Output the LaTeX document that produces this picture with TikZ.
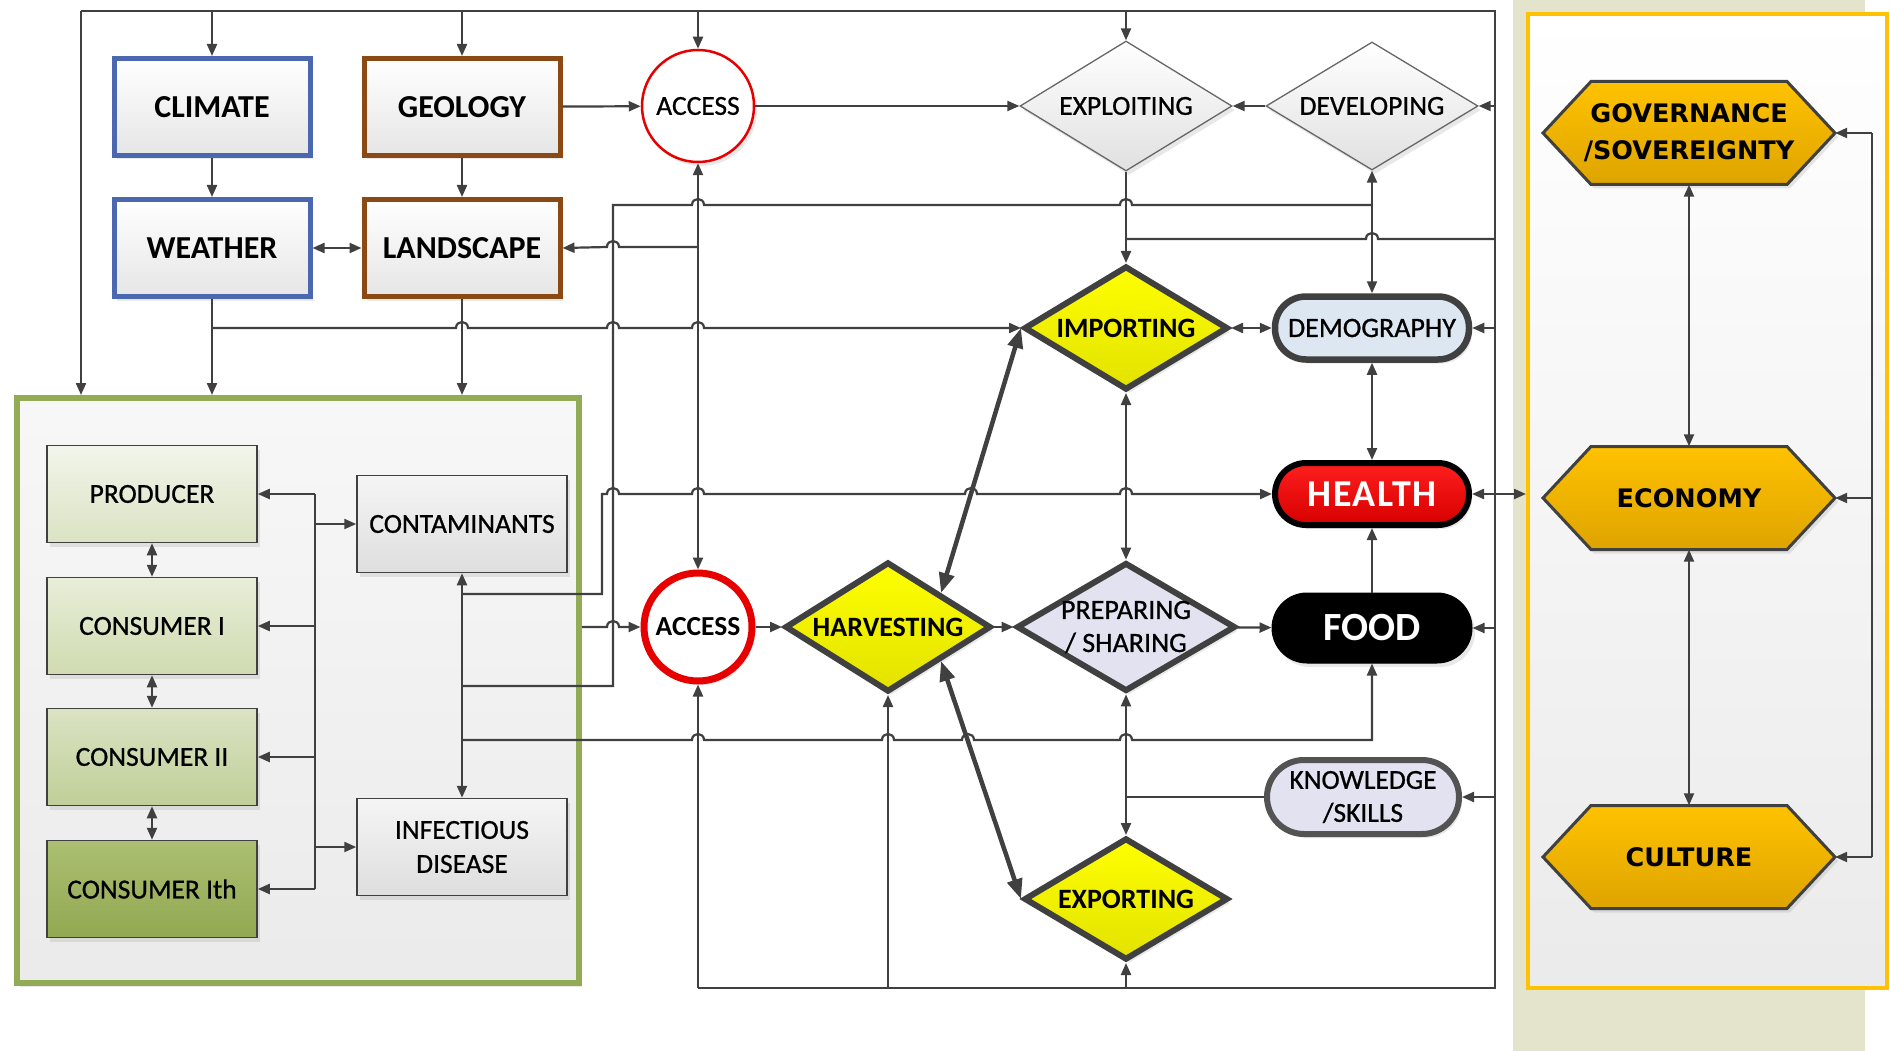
\documentclass[tikz,border=0pt]{standalone}
\usepackage{fontspec}
\setmainfont{Carlito}
\newfontfamily\medfont{Carlito}[FakeBold=0.8]
\newfontfamily\hexfont{DejaVu Sans}
\usetikzlibrary{shapes.geometric,arrows.meta,shadows}
\definecolor{lc}{RGB}{64,64,64}
\definecolor{bluebd}{RGB}{74,103,176}
\definecolor{brownbd}{RGB}{139,74,20}
\definecolor{greenbd}{RGB}{146,172,86}
\definecolor{khaki}{RGB}{228,228,204}
\definecolor{gold}{RGB}{255,194,0}
\definecolor{golddk}{RGB}{222,164,0}
\definecolor{redbd}{RGB}{230,0,0}
\definecolor{lav}{RGB}{226,226,240}
\definecolor{demo}{RGB}{221,231,242}
\definecolor{yel}{RGB}{255,255,0}
\definecolor{yeldk}{RGB}{226,226,0}
\definecolor{pA}{RGB}{242,245,235}
\definecolor{pB}{RGB}{218,227,195}
\definecolor{cA}{RGB}{232,238,217}
\definecolor{cB}{RGB}{207,219,176}
\definecolor{dA}{RGB}{218,227,195}
\definecolor{dB}{RGB}{192,207,152}
\definecolor{eA}{RGB}{172,191,114}
\definecolor{eB}{RGB}{146,168,82}
\definecolor{hA}{RGB}{255,30,30}
\definecolor{hB}{RGB}{214,0,0}
\newcommand{\myhex}[2]{\draw[draw=lc,line width=3pt,top color=gold,bottom color=golddk,shad] (#1-146,#2) -- (#1-98,#2-51.5) -- (#1+98,#2-51.5) -- (#1+146,#2) -- (#1+98,#2+51.5) -- (#1-98,#2+51.5) -- cycle;}
\begin{document}
\begin{tikzpicture}[x=1pt,y=-1pt,
 cline/.style={draw=lc,line width=2.2pt},
 carr/.style={cline,-{Triangle[length=12pt,width=10pt]}},
 cbarr/.style={cline,{Triangle[length=12pt,width=10pt]}-{Triangle[length=12pt,width=10pt]}},
 cthick/.style={draw=lc,line width=4.5pt,{Triangle[length=20pt,width=15pt]}-{Triangle[length=20pt,width=15pt]}},
 hopr/.style 2 args={insert path={-- (#1-6,#2) .. controls (#1-6,#2-8) and (#1+6,#2-8) .. (#1+6,#2)}},
 hopl/.style 2 args={insert path={-- (#1+6,#2) .. controls (#1+6,#2-8) and (#1-6,#2-8) .. (#1-6,#2)}},
 shad/.style={drop shadow={shadow xshift=3pt,shadow yshift=-4pt,opacity=0.18}},
 topbox/.style={rectangle,minimum width=196,minimum height=97,inner sep=0,line width=5pt,top color=white,bottom color=black!10,shad,font=\fontsize{32}{36}\selectfont\bfseries},
 gbox/.style={rectangle,minimum width=210,minimum height=97,inner sep=0,draw=lc,line width=1.5pt,shad,font=\medfont\fontsize{27.5}{34}\selectfont,align=center},
 gdiam/.style={diamond,aspect=1.7,inner sep=0,shad,align=center},
 pill/.style={rectangle,inner sep=0,shad,align=center},
 hexn/.style={rectangle,minimum width=292,minimum height=103,inner sep=0,align=center,font=\hexfont\bfseries\fontsize{25.5}{37}\selectfont},
]
\useasboundingbox (0,0) rectangle (1890,1051);
\fill[white] (0,0) rectangle (1890,1051);
\fill[khaki] (1513,0) rectangle (1865,1051);
\node[rectangle,minimum width=359,minimum height=974,inner sep=0,draw=gold,line width=4pt,top color=white,bottom color=black!8] (ybox) at (1707.5,501) {};
\node[rectangle,minimum width=562,minimum height=585,inner sep=0,draw=greenbd,line width=6pt,top color=white!97!black,bottom color=black!8,shad] (green) at (298,690.5) {};

% top boxes
\node[topbox,draw=bluebd] (climate) at (212,107) {CLIMATE};
\node[topbox,draw=brownbd] (geology) at (462,107) {GEOLOGY};
\node[topbox,draw=bluebd] (weather) at (212,248) {WEATHER};
\node[topbox,draw=brownbd] (land) at (462,248) {LANDSCAPE};
\node[circle,minimum size=112,inner sep=0,draw=redbd,line width=2.5pt,fill=white,shad,font=\medfont\fontsize{27.5}{30}\selectfont] (accT) at (698,106) {ACCESS};
\node[gdiam,minimum width=212,minimum height=130,draw=lc!80,line width=1.3pt,top color=white,bottom color=black!12,font=\medfont\fontsize{27.5}{30}\selectfont] (exploit) at (1126,106) {EXPLOITING};
\node[gdiam,minimum width=212,minimum height=128,draw=lc!80,line width=1.3pt,top color=white,bottom color=black!12,font=\medfont\fontsize{27.5}{30}\selectfont] (develop) at (1372,106) {DEVELOPING};

% middle column
\node[gdiam,minimum width=204,minimum height=124,draw=lc,line width=6pt,top color=yel,bottom color=yeldk,font=\fontsize{28}{30}\selectfont\bfseries] (import) at (1126,328) {IMPORTING};
\node[pill,minimum width=194,minimum height=63,rounded corners=31pt,draw=lc,line width=6.5pt,fill=demo,font=\medfont\fontsize{28}{30}\selectfont] (demog) at (1372,328) {DEMOGRAPHY};
\node[pill,minimum width=194,minimum height=62,rounded corners=31pt,draw=black,line width=6pt,top color=hA,bottom color=hB,text=white,font=\addfontfeatures{LetterSpace=4}\fontsize{38}{40}\selectfont\bfseries] (health) at (1372,494) {HEALTH};
\node[pill,minimum width=200,minimum height=70,rounded corners=35pt,draw=black,line width=1pt,fill=black,text=white,font=\fontsize{40}{42}\selectfont\bfseries] (food) at (1372,628) {FOOD};
\node[pill,minimum width=192,minimum height=74,rounded corners=37pt,draw=lc!90,line width=6pt,fill=lav,font=\medfont\fontsize{27.5}{33}\selectfont] (know) at (1363,797) {KNOWLEDGE\\/SKILLS};
\node[circle,minimum size=108,inner sep=0,draw=redbd,line width=7pt,fill=white,shad,font=\fontsize{27.5}{30}\selectfont\bfseries] (accB) at (698,627) {ACCESS};
\node[gdiam,minimum width=206,minimum height=130,draw=lc,line width=6pt,top color=yel,bottom color=yeldk,font=\fontsize{28}{30}\selectfont\bfseries] (harv) at (888,627) {HARVESTING};
\node[gdiam,minimum width=216,minimum height=126,draw=lc,line width=6pt,fill=lav,font=\medfont\fontsize{28}{33}\selectfont] (prep) at (1126,627) {PREPARING\\/ SHARING};
\node[gdiam,minimum width=204,minimum height=122,draw=lc,line width=6pt,top color=yel,bottom color=yeldk,font=\fontsize{28}{30}\selectfont\bfseries] (export) at (1126,899) {EXPORTING};

% green box
\node[gbox,top color=pA,bottom color=pB] (prod) at (152,494) {PRODUCER};
\node[gbox,top color=cA,bottom color=cB] (c1) at (152,626) {CONSUMER I};
\node[gbox,top color=dA,bottom color=dB] (c2) at (152,757) {CONSUMER II};
\node[gbox,top color=eA,bottom color=eB] (c3) at (152,889) {CONSUMER Ith};
\node[gbox,top color=white!96!black,bottom color=black!13] (contam) at (462,524) {CONTAMINANTS};
\node[gbox,top color=white!96!black,bottom color=black!13] (infect) at (462,847) {INFECTIOUS\\DISEASE};

% right panel
\myhex{1689}{133}
\myhex{1689}{498}
\myhex{1689}{857}
\node[hexn] (gov) at (1689,133) {GOVERNANCE\\/SOVEREIGNTY};
\node[hexn] (eco) at (1689,498) {ECONOMY};
\node[hexn] (cul) at (1689,857) {CULTURE};

% frame
\coordinate (tl) at (81,11);
\coordinate (tr) at (1495,11);
\coordinate (br) at (1495,988);
\coordinate (bl) at (698,988);
\draw[cline] (tl) -- (tr) -- (br) -- (bl);
\draw[carr] (tl) -- (tl |- green.north);
\draw[carr] (climate.north |- tl) -- (climate.north);
\draw[carr] (geology.north |- tl) -- (geology.north);
\draw[carr] (accT.north |- tl) -- (accT.north);
\draw[carr] (exploit.north |- tl) -- (exploit.north);
\draw[carr] (develop.east -| tr) -- (develop.east);
\draw[carr] (demog.east -| tr) -- (demog.east);
\draw[carr] (food.east -| tr) -- (food.east);
\draw[carr] (know.east -| tr) -- (know.east);
\draw[cbarr] (health.east) -- (health.east -| ybox.west);
\draw[cline] (1495,239) [hopl={1372}{239}] -- (1126,239);
\draw[carr] (bl) -- (accB.south);
\draw[carr] (harv.south |- bl) -- (harv.south);
\draw[carr] (export.south |- bl) -- (export.south);

% top-left cluster
\draw[carr] (climate) -- (weather);
\draw[carr] (geology) -- (land);
\draw[cbarr] (weather) -- (land);
\draw[carr] (geology) -- (accT);
\draw[carr] (accT) -- (exploit);
\draw[carr] (develop) -- (exploit);
\draw[carr] (weather.south) -- (weather.south |- green.north);
\draw[carr] (land.south) -- (land.south |- green.north);
\draw[carr] (212,328) [hopr={462}{328}] [hopr={613}{328}] [hopr={698}{328}] -- (import.west);
\draw[cbarr] (accT) -- (accB);
\draw[carr] (698,247) [hopl={613}{247}] -- (land.east);
\draw[cline] (462,686) -- (613,686) -- (613,205) [hopr={698}{205}] [hopr={1126}{205}] -- (1372,205);
\draw[carr] (exploit) -- (import);
\draw[cbarr] (develop) -- (demog);
\draw[cbarr] (import) -- (demog);
\draw[cbarr] (demog) -- (health);
\draw[carr] (food) -- (health);
\draw[carr] (462,594) -- (602,594) -- (602,494) [hopr={613}{494}] [hopr={698}{494}] [hopr={971}{494}] [hopr={1126}{494}] -- (health.west);
\draw[carr] (green.east |- accB) [hopr={613}{627}] -- (accB.west);
\draw[carr] (accB) -- (harv);
\draw[carr] (harv) -- (prep);
\draw[carr] (prep) -- (food);
\draw[cbarr] (import) -- (prep);
\draw[cbarr] (prep) -- (export);
\draw[cline] (know.west) -- (know.west -| prep.south);
\draw[carr] (462,740) [hopr={698}{740}] [hopr={888}{740}] [hopr={968}{740}] [hopr={1126}{740}] -- (1372,740) -- (food.south);
\draw[cthick] (harv.north east) -- (import.west);
\draw[cthick] (harv.south east) -- (export.west);

% green box internals
\draw[cbarr] (contam) -- (infect);
\draw[cline] (315,494) -- (315,889);
\draw[carr] (315,494) -- (prod.east);
\draw[carr] (315,626) -- (c1.east);
\draw[carr] (315,757) -- (c2.east);
\draw[carr] (315,889) -- (c3.east);
\draw[carr] (315,524) -- (contam.west);
\draw[carr] (315,847) -- (infect.west);
\draw[cbarr] (prod) -- (c1);
\draw[cbarr] (c1) -- (c2);
\draw[cbarr] (c2) -- (c3);

% right panel connectors
\draw[cbarr] (gov) -- (eco);
\draw[cbarr] (eco) -- (cul);
\draw[cline] (1872,133) -- (1872,857);
\draw[carr] (1872,133) -- (gov.east);
\draw[carr] (1872,498) -- (eco.east);
\draw[carr] (1872,857) -- (cul.east);
\end{tikzpicture}
\end{document}
